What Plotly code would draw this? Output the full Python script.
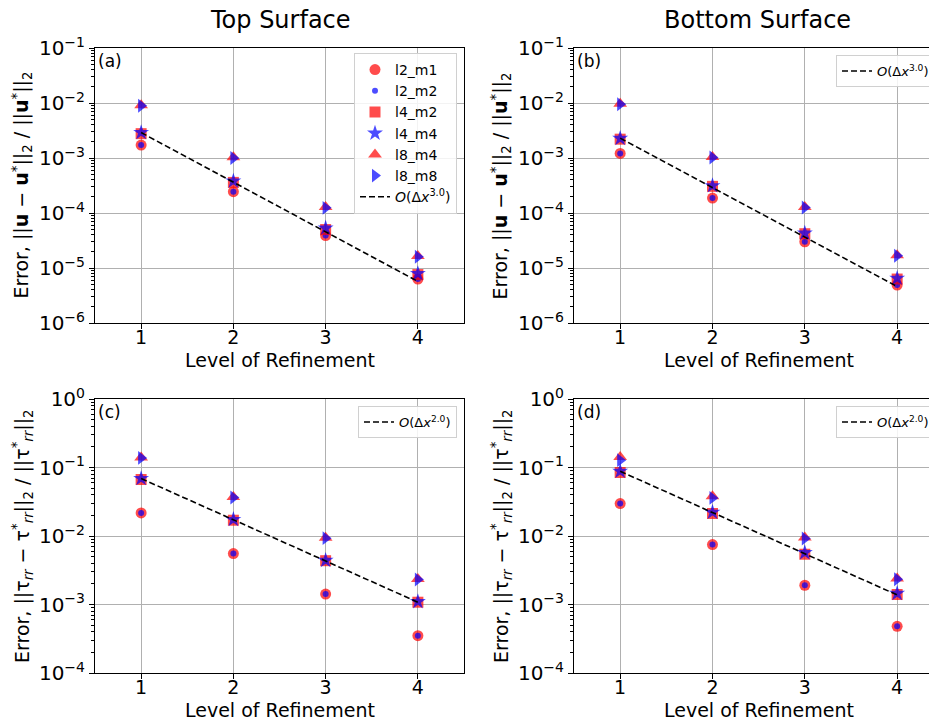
import numpy as np
import plotly.graph_objects as go

levels = [1, 2, 3, 4]
x_ticks = [1, 2, 3, 4]

# Panel (a): Top surface, velocity error
a_l2_m1 = [1.72e-3, 2.44e-4, 3.9e-5, 6.3e-6]
a_l2_m2 = [1.72e-3, 2.44e-4, 3.9e-5, 6.3e-6]
a_l4_m2 = [2.77e-3, 3.6e-4, 5.0e-5, 7.6e-6]
a_l4_m4 = [2.9e-3, 3.8e-4, 5.3e-5, 7.9e-6]
a_l8_m4 = [9.1e-3, 1.03e-3, 1.28e-4, 1.65e-5]
a_l8_m8 = [8.9e-3, 1.0e-3, 1.24e-4, 1.6e-5]
a_ref = [2.9e-3, 3.6e-4, 4.55e-5, 5.7e-6]

# Panel (b): Bottom surface, velocity error
b_l2_m1 = [1.21e-3, 1.87e-4, 3.0e-5, 4.9e-6]
b_l2_m2 = [1.21e-3, 1.87e-4, 3.0e-5, 4.9e-6]
b_l4_m2 = [2.2e-3, 3.05e-4, 4.2e-5, 6.3e-6]
b_l4_m4 = [2.27e-3, 3.13e-4, 4.3e-5, 6.5e-6]
b_l8_m4 = [9.7e-3, 1.04e-3, 1.28e-4, 1.7e-5]
b_l8_m8 = [9.5e-3, 1.02e-3, 1.26e-4, 1.67e-5]
b_ref = [2.3e-3, 2.9e-4, 3.6e-5, 4.6e-6]

# Panel (c): Top surface, stress error
c_l2_m1 = [0.0217, 0.00555, 0.00142, 0.00035]
c_l2_m2 = [0.0217, 0.00555, 0.00142, 0.00035]
c_l4_m2 = [0.0668, 0.0170, 0.00436, 0.00108]
c_l4_m4 = [0.069, 0.0174, 0.0044, 0.0011]
c_l8_m4 = [0.140, 0.0370, 0.0094, 0.00235]
c_l8_m8 = [0.138, 0.0365, 0.0093, 0.00232]
c_ref = [0.069, 0.0172, 0.0043, 0.00108]

# Panel (d): Bottom surface, stress error
d_l2_m1 = [0.0298, 0.0075, 0.00191, 0.00048]
d_l2_m2 = [0.0298, 0.0075, 0.00191, 0.00048]
d_l4_m2 = [0.0845, 0.0213, 0.00542, 0.0014]
d_l4_m4 = [0.088, 0.0222, 0.0057, 0.00145]
d_l8_m4 = [0.142, 0.038, 0.0095, 0.0024]
d_l8_m8 = [0.128, 0.036, 0.0092, 0.00234]
d_ref = [0.088, 0.022, 0.0055, 0.00138]

series_names = ["l2_m1", "l2_m2", "l4_m2", "l4_m4", "l8_m4", "l8_m8"]
top_yticks = [1e-6, 1e-5, 1e-4, 1e-3, 1e-2, 1e-1]
top_yticklabels = ["10<sup>−6</sup>", "10<sup>−5</sup>", "10<sup>−4</sup>",
                   "10<sup>−3</sup>", "10<sup>−2</sup>", "10<sup>−1</sup>"]
bot_yticks = [1e-4, 1e-3, 1e-2, 1e-1, 1e0]
bot_yticklabels = ["10<sup>−4</sup>", "10<sup>−3</sup>", "10<sup>−2</sup>",
                   "10<sup>−1</sup>", "10<sup>0</sup>"]

RED = "rgba(255,0,0,0.7)"
BLUE = "rgba(0,0,255,0.7)"
styles = {
    "l2_m1": dict(symbol="circle", size=11, color=RED),
    "l2_m2": dict(symbol="circle", size=6, color=BLUE),
    "l4_m2": dict(symbol="square", size=11, color=RED),
    "l4_m4": dict(symbol="star", size=12, color=BLUE),
    "l8_m4": dict(symbol="triangle-up", size=12, color=RED),
    "l8_m8": dict(symbol="triangle-right", size=12, color=BLUE),
}

# page body has an 8px margin; design in page pixels and convert
OFF = 8
W, H = 929, 710
FONT = "DejaVu Sans"


def px(xp):
    return (xp - OFF) / W


def py(yp):
    return 1 - (yp - OFF) / H


panels = [
    dict(key="a", data=[a_l2_m1, a_l2_m2, a_l4_m2, a_l4_m4, a_l8_m4, a_l8_m8], ref=a_ref,
         order="3.0", xd=(95, 464), yd=(48, 323), xr=[0.5, 4.5], top=True, legend="legend"),
    dict(key="b", data=[b_l2_m1, b_l2_m2, b_l4_m2, b_l4_m4, b_l8_m4, b_l8_m8], ref=b_ref,
         order="3.0", xd=(574, 937), yd=(48, 323), xr=[0.5, 0.5 + (937 - 574) / 92.33], top=True, legend="legend2"),
    dict(key="c", data=[c_l2_m1, c_l2_m2, c_l4_m2, c_l4_m4, c_l8_m4, c_l8_m8], ref=c_ref,
         order="2.0", xd=(95, 464), yd=(399, 673), xr=[0.5, 4.5], top=False, legend="legend3"),
    dict(key="d", data=[d_l2_m1, d_l2_m2, d_l4_m2, d_l4_m4, d_l8_m4, d_l8_m8], ref=d_ref,
         order="2.0", xd=(574, 937), yd=(399, 673), xr=[0.5, 0.5 + (937 - 574) / 92.33], top=False, legend="legend4"),
]

fig = go.Figure()
layout = dict(
    width=W, height=H, margin=dict(l=0, r=0, t=0, b=0, pad=0, autoexpand=False),
    paper_bgcolor="white", plot_bgcolor="white",
    font=dict(family=FONT, color="black"),
    annotations=[],
)


def minor_vals(lo, hi):
    vals = []
    for e in range(lo, hi):
        for k in range(2, 10):
            vals.append(k * 10.0 ** e)
    return vals


for i, p in enumerate(panels):
    n = "" if i == 0 else str(i + 1)
    xa, ya = "x" + n, "y" + n
    for name, vals in zip(series_names, p["data"]):
        st = styles[name]
        fig.add_trace(go.Scatter(
            x=levels, y=vals, mode="markers", name=name, xaxis=xa, yaxis=ya,
            marker=dict(symbol=st["symbol"], size=st["size"], color=st["color"], line=dict(width=0)),
            showlegend=(p["key"] == "a"), legend=p["legend"],
        ))
    fig.add_trace(go.Scatter(
        x=levels, y=p["ref"], mode="lines", xaxis=xa, yaxis=ya,
        name="<i>O</i>(Δ<i>x</i><sup>" + p["order"] + "</sup>)",
        line=dict(color="black", width=1.6, dash="6px,3px"),
        showlegend=True, legend=p["legend"],
    ))
    x0, x1 = p["xd"]
    y0, y1 = p["yd"]
    right_clip = x1 >= 937
    layout["xaxis" + n] = dict(
        domain=[px(x0), min(px(x1), 1.0)], range=p["xr"], anchor=ya, automargin=False,
        tickvals=x_ticks, ticktext=[str(t) for t in x_ticks],
        ticks="outside", ticklen=5, tickcolor="black", ticklabelstandoff=-8,
        showline=True, linecolor="black", linewidth=1, mirror=True,
        showgrid=True, gridcolor="#b0b0b0", gridwidth=1, zeroline=False,
        tickfont=dict(size=19, family=FONT),
    )
    if p["top"]:
        yt, ytl, yr, mv = top_yticks, top_yticklabels, [-6, -1], minor_vals(-6, -1)
    else:
        yt, ytl, yr, mv = bot_yticks, bot_yticklabels, [-4, 0], minor_vals(-4, 0)
    layout["yaxis" + n] = dict(
        type="log", domain=[py(y1), py(y0)], range=yr, anchor=xa, automargin=False,
        tickmode="array", tickvals=yt, ticktext=ytl,
        ticks="outside", ticklen=5, tickcolor="black",
        minor=dict(tickmode="array", tickvals=mv, ticks="outside", ticklen=3,
                   tickcolor="black", showgrid=False),
        showline=True, linecolor="black", linewidth=1, mirror=(not right_clip),
        showgrid=True, gridcolor="#b0b0b0", gridwidth=1, zeroline=False,
        tickfont=dict(size=20, family=FONT),
    )
    # panel label
    layout["annotations"].append(dict(
        text="(" + p["key"] + ")", xref="paper", yref="paper",
        x=px(x0 + 1), y=py(y0 + 1), xanchor="left", yanchor="top",
        showarrow=False, font=dict(size=17, family=FONT),
    ))
    # x title
    cx = (95 + 464) / 2 if x0 < 300 else (574 + 943) / 2
    layout["annotations"].append(dict(
        text="Level of Refinement", xref="paper", yref="paper",
        x=px(cx), y=py(y1 + 37), xanchor="center", yanchor="middle",
        showarrow=False, font=dict(size=19, family=FONT),
    ))
    # y title
    if p["top"]:
        ytitle = ("Error, ||<b>u</b> − <b>u</b><sup>*</sup>||<sub>2</sub> / "
                  "||<b>u</b><sup>*</sup>||<sub>2</sub>")
    else:
        ytitle = ("Error, ||τ<sub><i>rr</i></sub> − τ<sup>*</sup><sub><i>rr</i></sub>||<sub>2</sub> / "
                  "||τ<sup>*</sup><sub><i>rr</i></sub>||<sub>2</sub>")
    tx = 22 if x0 < 300 else 501
    layout["annotations"].append(dict(
        text=ytitle, xref="paper", yref="paper", textangle=-90,
        x=px(tx), y=py((y0 + y1) / 2), xanchor="center", yanchor="middle",
        showarrow=False, font=dict(size=19, family=FONT),
    ))

# column titles
layout["annotations"].append(dict(
    text="Top Surface", xref="paper", yref="paper", x=px(280), y=py(20),
    xanchor="center", yanchor="middle", showarrow=False, font=dict(size=24, family=FONT)))
layout["annotations"].append(dict(
    text="Bottom Surface", xref="paper", yref="paper", x=px(757), y=py(20),
    xanchor="center", yanchor="middle", showarrow=False, font=dict(size=24, family=FONT)))

leg_common = dict(bgcolor="rgba(255,255,255,0.85)", bordercolor="#d0d0d0", borderwidth=1,
                  xanchor="right", yanchor="top", tracegroupgap=0)
layout["legend"] = dict(x=px(457), y=py(53), font=dict(size=14, family=FONT), **leg_common)
layout["legend2"] = dict(x=px(935), y=py(55), font=dict(size=13, family=FONT), **leg_common)
layout["legend3"] = dict(x=px(457), y=py(406), font=dict(size=13, family=FONT), **leg_common)
layout["legend4"] = dict(x=px(935), y=py(406), font=dict(size=13, family=FONT), **leg_common)

fig.update_layout(**layout)
fig.write_html("out.html")
